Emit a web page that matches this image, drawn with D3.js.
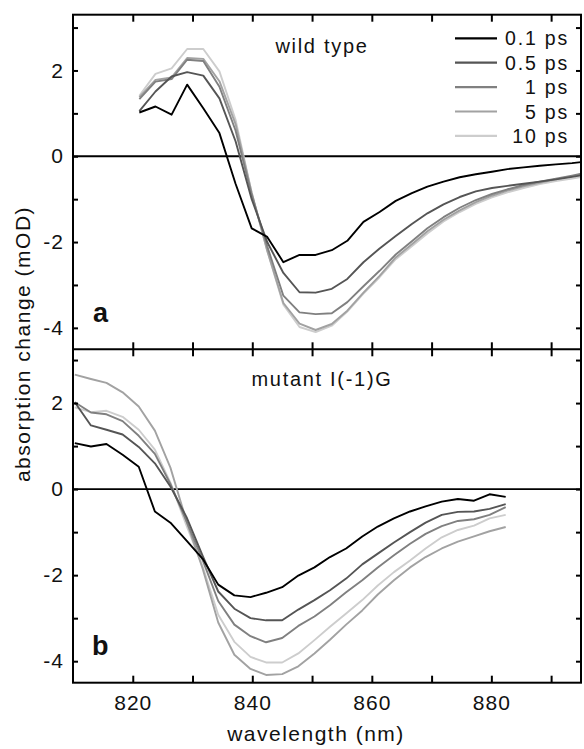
<!DOCTYPE html>
<html>
<head>
<meta charset="utf-8">
<script src="https://cdn.jsdelivr.net/npm/d3@7"></script>
<style>
  html, body { margin: 0; padding: 0; background: #fff; }
  svg { display: block; }
  text { font-family: "Liberation Sans", Arial, Helvetica, sans-serif; fill: #111; }
</style>
</head>
<body>
<svg id="chart" width="584" height="749"></svg>
<script>
// Transient absorption spectra at several delays (mOD vs wavelength, nm)
const delays = ["0.1 ps", "0.5 ps", "1 ps", "5 ps", "10 ps"];
const delayColors = ["#000000", "#555555", "#808080", "#a2a2a2", "#cdcdcd"];

// panel a: wild type
const wtWavelength = [821.1, 823.8, 826.5, 829.1, 831.8, 834.5, 837.2, 839.9, 842.5, 845.2,
  847.9, 850.6, 853.3, 855.9, 858.6, 861.3, 864.0, 866.7, 869.3, 872.0,
  874.7, 877.4, 880.1, 882.7, 885.4, 888.1, 890.8, 893.5, 896.1];
const wt_01ps = [1.02, 1.16, 0.97, 1.67, 1.12, 0.54, -0.64, -1.68, -1.88, -2.47,
  -2.30, -2.30, -2.19, -1.97, -1.53, -1.30, -1.04, -0.86, -0.71, -0.59,
  -0.49, -0.42, -0.36, -0.30, -0.26, -0.22, -0.19, -0.16, -0.12];
const wt_05ps = [1.05, 1.51, 1.86, 1.96, 1.88, 1.35, 0.35, -1.00, -2.00, -2.72,
  -3.17, -3.18, -3.09, -2.86, -2.47, -2.15, -1.86, -1.58, -1.33, -1.12,
  -0.95, -0.82, -0.74, -0.69, -0.64, -0.59, -0.54, -0.48, -0.42];
const wt_1ps = [1.33, 1.74, 1.80, 2.25, 2.22, 1.62, 0.60, -0.90, -2.10, -3.25,
  -3.64, -3.68, -3.66, -3.40, -3.03, -2.67, -2.29, -1.98, -1.68, -1.42,
  -1.20, -1.02, -0.88, -0.77, -0.67, -0.59, -0.52, -0.45, -0.38];
const wt_5ps = [1.38, 1.78, 1.84, 2.29, 2.27, 1.75, 0.75, -0.85, -2.20, -3.42,
  -3.90, -4.05, -3.91, -3.60, -3.18, -2.79, -2.36, -2.05, -1.75, -1.48,
  -1.26, -1.07, -0.92, -0.80, -0.70, -0.62, -0.54, -0.47, -0.40];
const wt_10ps = [1.41, 1.92, 2.05, 2.50, 2.50, 1.98, 0.85, -0.85, -2.20, -3.46,
  -3.98, -4.10, -3.95, -3.62, -3.20, -2.82, -2.40, -2.10, -1.80, -1.52,
  -1.30, -1.11, -0.96, -0.84, -0.74, -0.65, -0.58, -0.52, -0.46];

// panel b: mutant I(-1)G
const mutWavelength = [810.3, 813.0, 815.6, 818.3, 821.0, 823.7, 826.3, 829.0, 831.7, 834.3,
  837.0, 839.7, 842.3, 845.0, 847.7, 850.4, 853.0, 855.7, 858.4, 861.0,
  863.7, 866.4, 869.0, 871.7, 874.4, 877.1, 879.7, 882.4];
const mut_01ps = [1.07, 0.99, 1.05, 0.80, 0.52, -0.52, -0.78, -1.20, -1.62, -2.22,
  -2.47, -2.51, -2.41, -2.28, -2.01, -1.82, -1.58, -1.38, -1.10, -0.87,
  -0.68, -0.52, -0.40, -0.29, -0.23, -0.27, -0.12, -0.18];
const mut_05ps = [2.02, 1.48, 1.38, 1.27, 0.98, 0.60, 0.06, -0.65, -1.55, -2.38,
  -2.78, -3.00, -3.05, -3.05, -2.80, -2.58, -2.35, -2.08, -1.75, -1.50,
  -1.24, -1.00, -0.78, -0.60, -0.53, -0.52, -0.46, -0.35];
const mut_1ps = [2.02, 1.78, 1.74, 1.58, 1.24, 0.82, 0.12, -0.75, -1.65, -2.60,
  -3.15, -3.42, -3.56, -3.46, -3.18, -2.96, -2.70, -2.40, -2.12, -1.82,
  -1.54, -1.27, -1.04, -0.86, -0.74, -0.70, -0.60, -0.42];
const mut_5ps = [2.66, 2.56, 2.47, 2.25, 1.92, 1.36, 0.50, -0.75, -1.85, -3.10,
  -3.85, -4.18, -4.32, -4.30, -4.12, -3.82, -3.50, -3.15, -2.82, -2.45,
  -2.12, -1.82, -1.58, -1.38, -1.22, -1.10, -0.98, -0.88];
const mut_10ps = [1.90, 1.79, 1.82, 1.68, 1.38, 0.92, 0.15, -0.85, -1.80, -2.92,
  -3.55, -3.90, -4.03, -4.03, -3.82, -3.51, -3.20, -2.89, -2.58, -2.24,
  -1.93, -1.66, -1.38, -1.12, -0.95, -0.85, -0.68, -0.60];

const xTicks = [820, 830, 840, 850, 860, 870, 880, 890];
const yTicks = [-4, -3, -2, -1, 0, 1, 2, 3];
const yLabelled = [-4, -2, 0, 2];

const panels = [
  { id: "a", title: "wild type", x: wtWavelength,
    series: [wt_01ps, wt_05ps, wt_1ps, wt_5ps, wt_10ps],
    yDomain: [-4.5, 3.3], top: 14.7, bottom: 349.3,
    titlePos: [322, 53], letterPos: [93, 321.5] },
  { id: "b", title: "mutant I(-1)G", x: mutWavelength,
    series: [mut_01ps, mut_05ps, mut_1ps, mut_5ps, mut_10ps],
    yDomain: [-4.5, 3.25], top: 349.3, bottom: 682.7,
    titlePos: [322, 386], letterPos: [92, 655] }
];

const svg = d3.select("#chart");
const plotLeft = 73, plotRight = 581;
const x = d3.scaleLinear().domain([810, 895]).range([plotLeft, plotRight]);

panels.forEach((p, pi) => {
  const y = d3.scaleLinear().domain(p.yDomain).range([p.bottom, p.top]);
  const g = svg.append("g");

  const clipId = "clip-" + p.id;
  svg.append("clipPath").attr("id", clipId)
    .append("rect")
    .attr("x", plotLeft).attr("y", p.top)
    .attr("width", plotRight - plotLeft).attr("height", p.bottom - p.top);

  // zero baseline
  g.append("line")
    .attr("x1", plotLeft).attr("x2", plotRight)
    .attr("y1", y(0)).attr("y2", y(0))
    .attr("stroke", "#000").attr("stroke-width", 1.8);

  // spectra, drawn lightest first so the early delays sit on top
  const line = d3.line()
    .x((d, i) => x(p.x[i]))
    .y(d => y(d));
  const order = [4, 3, 2, 1, 0];
  g.append("g").attr("clip-path", `url(#${clipId})`)
    .selectAll("path")
    .data(order)
    .join("path")
    .attr("d", k => line(p.series[k]))
    .attr("fill", "none")
    .attr("stroke", k => delayColors[k])
    .attr("stroke-width", 1.9)
    .attr("stroke-linejoin", "round");

  // y axes (ticks inward on both sides)
  const yLeft = d3.axisLeft(y).tickValues(yTicks).tickSize(-5).tickPadding(9)
    .tickFormat(d => yLabelled.includes(d) ? String(d) : "");
  const gl = g.append("g").attr("transform", `translate(${plotLeft},0)`).call(yLeft);
  const yRight = d3.axisRight(y).tickValues(yTicks).tickSize(-5).tickFormat("");
  const gr = g.append("g").attr("transform", `translate(${plotRight},0)`).call(yRight);

  // x axes: ticks inward at the top and bottom edge of each panel
  const xTop = d3.axisTop(x).tickValues(xTicks).tickSize(-7).tickFormat("");
  const gt = g.append("g").attr("transform", `translate(0,${p.top})`).call(xTop);
  const xBot = d3.axisBottom(x).tickValues(xTicks).tickSize(-7).tickPadding(12)
    .tickFormat(d => (pi === 1 && d % 20 === 0) ? String(d) : "");
  const gb = g.append("g").attr("transform", `translate(0,${p.bottom})`).call(xBot);

  [gl, gr, gt, gb].forEach(ax => {
    ax.select(".domain").remove();
    ax.selectAll(".tick line").attr("stroke", "#000").attr("stroke-width", 2);
    ax.selectAll(".tick text")
      .attr("font-size", 21).attr("letter-spacing", 1)
      .attr("fill", "#111")
      .style("font-family", '"Liberation Sans", Arial, sans-serif');
  });

  // panel title and letter
  g.append("text")
    .attr("x", p.titlePos[0]).attr("y", p.titlePos[1])
    .attr("text-anchor", "middle")
    .attr("font-size", 20).attr("letter-spacing", 1.7)
    .text(p.title);
  g.append("text")
    .attr("x", p.letterPos[0]).attr("y", p.letterPos[1])
    .attr("font-size", 27).attr("font-weight", "bold")
    .text(p.id);
});

// frame and panel divider
svg.append("rect")
  .attr("x", plotLeft).attr("y", panels[0].top)
  .attr("width", plotRight - plotLeft).attr("height", panels[1].bottom - panels[0].top)
  .attr("fill", "none").attr("stroke", "#000").attr("stroke-width", 2);
svg.append("line")
  .attr("x1", plotLeft).attr("x2", plotRight)
  .attr("y1", panels[0].bottom).attr("y2", panels[0].bottom)
  .attr("stroke", "#000").attr("stroke-width", 2);

// legend
const legend = svg.append("g");
delays.forEach((label, i) => {
  const ly = 38.3 + i * 24.4;
  legend.append("line")
    .attr("x1", 455).attr("x2", 497).attr("y1", ly).attr("y2", ly)
    .attr("stroke", delayColors[i]).attr("stroke-width", 2.2);
  legend.append("text")
    .attr("x", 569).attr("y", ly + 7)
    .attr("text-anchor", "end")
    .attr("font-size", 19.5).attr("letter-spacing", 1.8)
    .text(label);
});

// axis titles
svg.append("text")
  .attr("x", 316).attr("y", 741)
  .attr("text-anchor", "middle")
  .attr("font-size", 21).attr("letter-spacing", 1.5)
  .text("wavelength (nm)");
svg.append("text")
  .attr("transform", "translate(30,344) rotate(-90)")
  .attr("text-anchor", "middle")
  .attr("font-size", 21).attr("letter-spacing", 1.5)
  .text("absorption change (mOD)");
</script>
</body>
</html>
